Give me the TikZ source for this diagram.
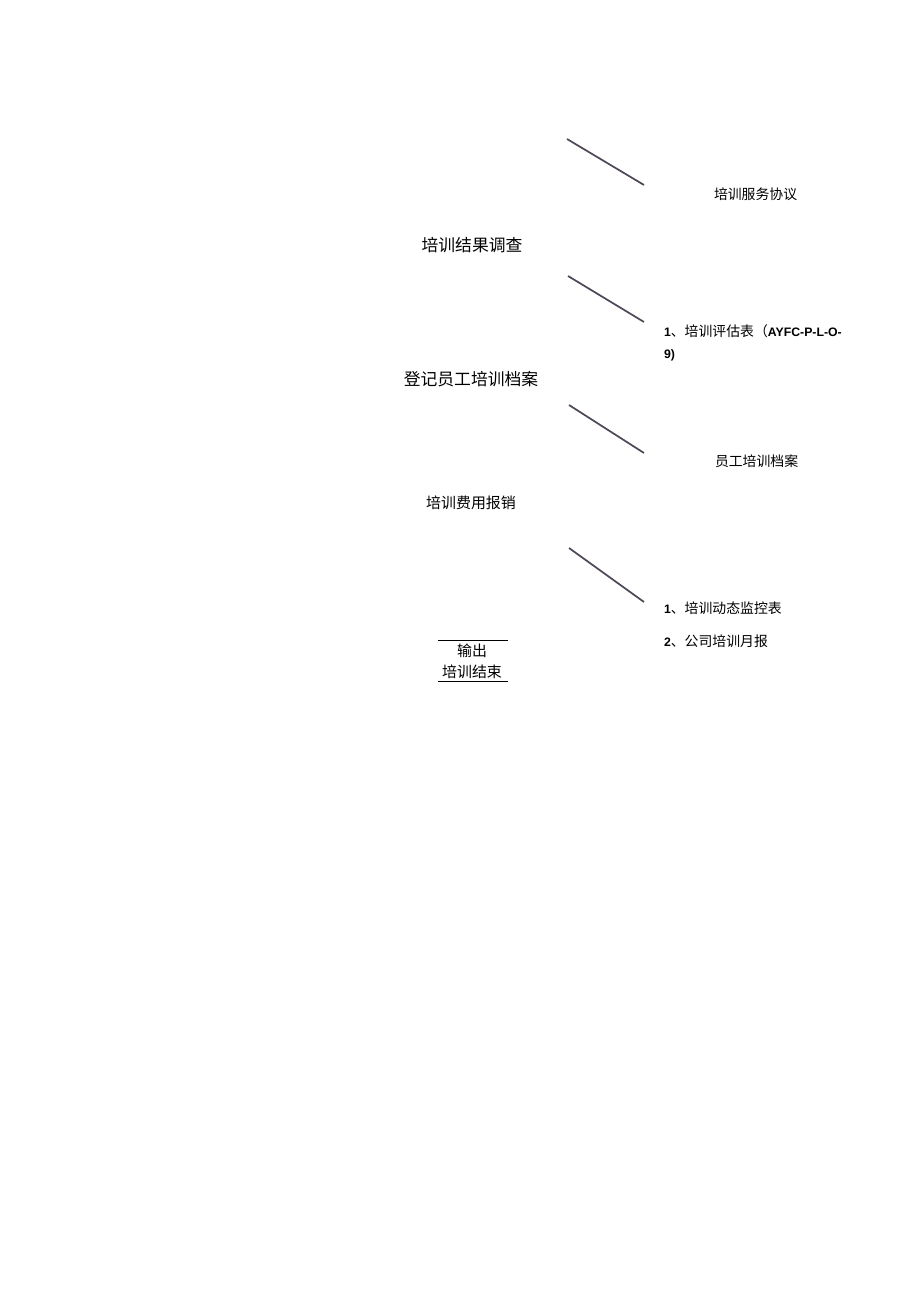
\documentclass[tikz,border=0pt]{standalone}
\usepackage{fontspec}
\setmainfont{Liberation Sans}
\newfontfamily\cjk{Noto Sans CJK SC}
\newfontfamily\arial{Liberation Sans}
\usetikzlibrary{positioning}
\definecolor{slash}{RGB}{80,72,86}
\newcommand{\bnum}[1]{{\arial\bfseries\fontsize{9.2}{12}\selectfont #1}}

\begin{document}
\begin{tikzpicture}[x=.75pt, y=-.75pt,
 every node/.style={inner sep=0, outer sep=0},
 big/.style={font=\cjk\fontsize{12.6}{14}\selectfont},
 doc/.style={font=\cjk\fontsize{10.4}{12}\selectfont, anchor=west},
 song/.style={font=\cjk\fontsize{11.2}{13}\selectfont}]
\useasboundingbox (0,0) rectangle (920,1301);
% left column
\node[big]  (survey) at (472,245) {培训结果调查};
\node[big]  (record) at (471,379) {登记员工培训档案};
\node[song] (cost)   at (471,503) {培训费用报销};
\node[song] (out)    at (472,651) {输出};
\node[song] (end)    at (472,672) {培训结束};
\coordinate (o1) at (438,640); \coordinate (o2) at (508,640);
\coordinate (e1) at (438,681); \coordinate (e2) at (508,681);
\draw[black, line width=.6pt] (o1) -- (o2);
\draw[black, line width=.6pt] (e1) -- (e2);
% right column
\node[doc] (agree) at (714,194) {培训服务协议};
\node[doc] (eval)  at (664,331) {\bnum{1}、培训评估表（\bnum{AYFC-P-L-O-}};
\node[doc] (evalb) at (664,355) {\bnum{9)}};
\node[doc] (file)  at (715,461) {员工培训档案};
\node[doc] (mon)   at (664,608) {\bnum{1}、培训动态监控表};
\node[doc] (month) at (664,641) {\bnum{2}、公司培训月报};
% slashes
\foreach \a/\b/\c in {139/185/567, 276/322/568, 405/453/569, 548/602/569} {
 \coordinate (s\a) at (\c,\a);
 \coordinate (t\a) at (644,\b);
 \draw[slash, line width=1.3pt] (s\a) -- (t\a);
}
\end{tikzpicture}
\end{document}
